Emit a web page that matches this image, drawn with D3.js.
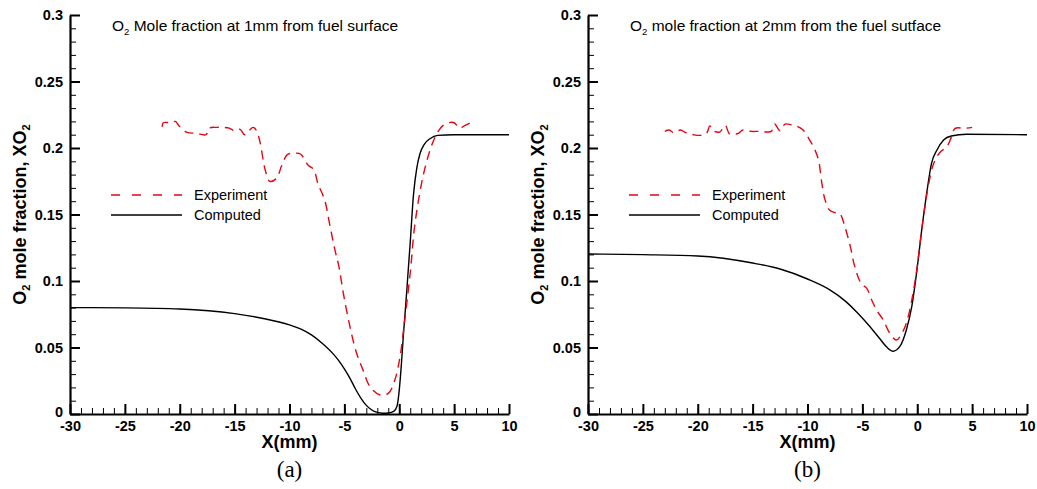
<!DOCTYPE html>
<html>
<head>
<meta charset="utf-8">
<script src="https://cdn.jsdelivr.net/npm/d3@7"></script>
<style>
  body { margin: 0; background: #fff; }
  svg { display: block; }
</style>
</head>
<body>
<div id="chart"></div>
<script>
// axis ticks
const xMajor = [-30, -25, -20, -15, -10, -5, 0, 5, 10];
const xLabels = ["-30", "-25", "-20", "-15", "-10", "-5", "0", "5", "10"];
const xMinor = d3.range(-30, 10.5, 1);
const yMajor = [0, 0.05, 0.1, 0.15, 0.2, 0.25, 0.3];
const yLabels = ["0", "0.05", "0.1", "0.15", "0.2", "0.25", "0.3"];
const yMinor = d3.range(0, 0.3001, 0.01);

// (a) 1mm from fuel surface
const expA_x = [-21.6, -21.5, -20.8, -20.4, -20.1, -19.4, -18.5, -17.6, -17.3, -16.6, -16.0, -15.5, -15.0, -14.5, -14.1, -13.7, -13.3, -13.0, -12.7, -12.2, -11.8, -11.2, -10.7, -10.2, -9.6, -9.0, -8.3, -7.8, -7.4, -6.8, -6.3, -5.85, -5.5, -5.1, -4.5, -3.9, -3.3, -2.7, -1.75, -1.0, -0.4, 0.07, 0.5, 1.0, 1.4, 2.0, 2.5, 3.0, 3.5, 4.0, 4.5, 5.0, 5.5, 6.0, 6.5];
const expA_y = [0.216, 0.219, 0.219, 0.22, 0.217, 0.212, 0.211, 0.21, 0.215, 0.2155, 0.2155, 0.215, 0.213, 0.214, 0.21, 0.213, 0.2155, 0.213, 0.205, 0.183, 0.175, 0.177, 0.187, 0.195, 0.196, 0.1955, 0.187, 0.184, 0.173, 0.161, 0.141, 0.123, 0.111, 0.091, 0.066, 0.046, 0.033, 0.021, 0.0143, 0.0155, 0.0256, 0.043, 0.0707, 0.106, 0.141, 0.172, 0.19, 0.203, 0.212, 0.217, 0.219, 0.219, 0.215, 0.217, 0.219];
const compA_x = [-30, -25, -20, -15, -12.5, -10, -9, -8, -7, -6, -5.5, -5, -4.5, -4, -3.5, -3, -2.5, -2, -1.5, -1, -0.5, -0.2, 0, 0.2, 0.4, 0.6, 0.8, 1.0, 1.3, 1.6, 1.9, 2.3, 2.8, 3.5, 5, 10];
const compA_y = [0.080, 0.0798, 0.079, 0.0755, 0.072, 0.067, 0.064, 0.0595, 0.053, 0.045, 0.040, 0.034, 0.027, 0.019, 0.012, 0.0065, 0.003, 0.0012, 0.0006, 0.0008, 0.002, 0.006, 0.018, 0.038, 0.062, 0.083, 0.106, 0.129, 0.165, 0.185, 0.196, 0.203, 0.207, 0.2095, 0.21, 0.21];

// (b) 2mm from fuel surface
const expB_x = [-23.0, -22.6, -22.2, -21.6, -21.2, -20.9, -20.4, -19.8, -19.2, -18.9, -18.6, -18.0, -17.5, -17.1, -16.6, -16.3, -15.9, -15.1, -14.3, -13.6, -13.3, -13.0, -12.5, -12.05, -11.5, -11.0, -10.4, -9.8, -9.4, -9.0, -8.7, -8.4, -7.95, -7.3, -7.0, -6.6, -6.1, -5.7, -5.1, -4.6, -4.15, -3.7, -3.1, -2.5, -1.9, -1.4, -1.0, -0.5, -0.05, 0.4, 1.0, 1.5, 2.1, 2.7, 3.1, 3.45, 4.35, 5.0];
const expB_y = [0.2125, 0.2135, 0.2115, 0.2135, 0.212, 0.211, 0.21, 0.2095, 0.211, 0.2165, 0.213, 0.212, 0.217, 0.2105, 0.2105, 0.211, 0.2135, 0.2125, 0.2125, 0.212, 0.2125, 0.218, 0.213, 0.218, 0.2175, 0.2165, 0.2135, 0.206, 0.2, 0.191, 0.174, 0.161, 0.153, 0.151, 0.15, 0.141, 0.126, 0.111, 0.098, 0.0945, 0.0857, 0.078, 0.0707, 0.0607, 0.0556, 0.0607, 0.068, 0.0857, 0.108, 0.138, 0.171, 0.1885, 0.197, 0.201, 0.208, 0.2148, 0.2148, 0.2155];
const compB_x = [-30, -25, -20, -15, -12.5, -10, -8, -6.5, -5.5, -4.5, -3.5, -2.8, -2.2, -1.6, -1.0, -0.5, 0, 0.4, 0.86, 1.3, 1.8, 2.4, 3.1, 4.5, 10];
const compB_y = [0.1203, 0.1198, 0.1188, 0.1135, 0.109, 0.1015, 0.0935, 0.0845, 0.0765, 0.0675, 0.0575, 0.0505, 0.0472, 0.0506, 0.063, 0.0807, 0.11, 0.138, 0.166, 0.1885, 0.1985, 0.206, 0.209, 0.2103, 0.21];

const font = "'Liberation Sans', Arial, sans-serif";

const svg = d3.select("#chart")
    .append("svg")
    .attr("width", 1037)
    .attr("height", 489)
    .style("font-family", font);

//draw one panel
function drawPanel(left, title, tag, expX, expY, compX, compY) {

    const plotLeft = left + 70, plotRight = left + 509;
    const plotTop = 15, plotBottom = 414;

    const x = d3.scaleLinear().domain([-30, 10]).range([plotLeft, plotRight]);
    const y = d3.scaleLinear().domain([0, 0.3]).range([plotBottom, plotTop]);

    const g = svg.append("g");

    //minor ticks
    g.append("g")
        .attr("transform", "translate(0," + plotBottom + ")")
        .call(d3.axisBottom(x).tickValues(xMinor).tickSize(-6).tickSizeOuter(0).tickFormat(""))
        .call(a => a.select(".domain").remove())
        .selectAll("line").attr("stroke-width", 1);

    g.append("g")
        .attr("transform", "translate(" + plotLeft + ",0)")
        .call(d3.axisLeft(y).tickValues(yMinor).tickSize(-6).tickSizeOuter(0).tickFormat(""))
        .call(a => a.select(".domain").remove())
        .selectAll("line").attr("stroke-width", 1);

    //major ticks + labels
    const xAxis = g.append("g")
        .attr("transform", "translate(0," + plotBottom + ")")
        .call(d3.axisBottom(x).tickValues(xMajor).tickSize(-10).tickSizeOuter(0).tickPadding(6.5)
            .tickFormat((d, i) => xLabels[i]));

    const yAxis = g.append("g")
        .attr("transform", "translate(" + plotLeft + ",0)")
        .call(d3.axisLeft(y).tickValues(yMajor).tickSize(-10).tickSizeOuter(0).tickPadding(7)
            .tickFormat((d, i) => yLabels[i]));

    [xAxis, yAxis].forEach(function (a) {
        a.attr("font-family", font);
        a.select(".domain").attr("stroke-width", 2.2);
        a.selectAll(".tick line").attr("stroke-width", 2);
        a.selectAll("text")
            .attr("font-size", 14.5)
            .attr("font-weight", "bold")
            .attr("fill", "#000");
    });

    //lift the "0" label a little so it clears "-30"
    yAxis.selectAll(".tick text").filter((d, i) => i === 0).attr("dy", "0.15em");

    //curves
    const line = d3.line()
        .x(d => x(d[0]))
        .y(d => y(d[1]));

    g.append("path")
        .datum(d3.zip(compX, compY))
        .attr("d", line.curve(d3.curveMonotoneX))
        .attr("fill", "none")
        .attr("stroke", "#000")
        .attr("stroke-width", 1.4);

    g.append("path")
        .datum(d3.zip(expX, expY))
        .attr("d", line.curve(d3.curveCatmullRom.alpha(0.5)))
        .attr("fill", "none")
        .attr("stroke", "#e30613")
        .attr("stroke-width", 1.4)
        .attr("stroke-dasharray", "9,6");

    //title
    const t = g.append("text")
        .attr("x", left + 112)
        .attr("y", 31)
        .attr("font-size", 15.5);
    t.append("tspan").text("O");
    t.append("tspan").attr("font-size", 9.5).attr("dy", 4).text("2");
    t.append("tspan").attr("dy", -4).text(" " + title);

    //legend
    const legend = [
        {name: "Experiment", color: "#e30613", dash: "9,12", y: 195},
        {name: "Computed", color: "#000", dash: null, y: 215}
    ];
    legend.forEach(function (l) {
        g.append("line")
            .attr("x1", left + 111).attr("x2", left + 182)
            .attr("y1", l.y).attr("y2", l.y)
            .attr("stroke", l.color)
            .attr("stroke-width", 1.4)
            .attr("stroke-dasharray", l.dash);
        g.append("text")
            .attr("x", left + 194)
            .attr("y", l.y + 5)
            .attr("font-size", 14.5)
            .text(l.name);
    });

    //axis titles
    g.append("text")
        .attr("x", (plotLeft + plotRight) / 2)
        .attr("y", 448)
        .attr("text-anchor", "middle")
        .attr("font-size", 18)
        .attr("font-weight", "bold")
        .text("X(mm)");

    const yl = g.append("text")
        .attr("transform", "translate(" + (left + 26) + "," + ((plotTop + plotBottom) / 2) + ") rotate(-90)")
        .attr("text-anchor", "middle")
        .attr("font-size", 18)
        .attr("font-weight", "bold");
    yl.append("tspan").text("O");
    yl.append("tspan").attr("font-size", 11).attr("dy", 4).text("2");
    yl.append("tspan").attr("dy", -4).text(" mole fraction, XO");
    yl.append("tspan").attr("font-size", 11).attr("dy", 4).text("2");

    g.append("text")
        .attr("x", (plotLeft + plotRight) / 2)
        .attr("y", 477)
        .attr("text-anchor", "middle")
        .attr("font-family", "'Liberation Serif', 'Times New Roman', serif")
        .attr("font-size", 23)
        .text(tag);
}

drawPanel(0, "Mole fraction at 1mm from fuel surface", "(a)", expA_x, expA_y, compA_x, compA_y);
drawPanel(518, "mole fraction at 2mm from the fuel sutface", "(b)", expB_x, expB_y, compB_x, compB_y);
</script>
</body>
</html>
